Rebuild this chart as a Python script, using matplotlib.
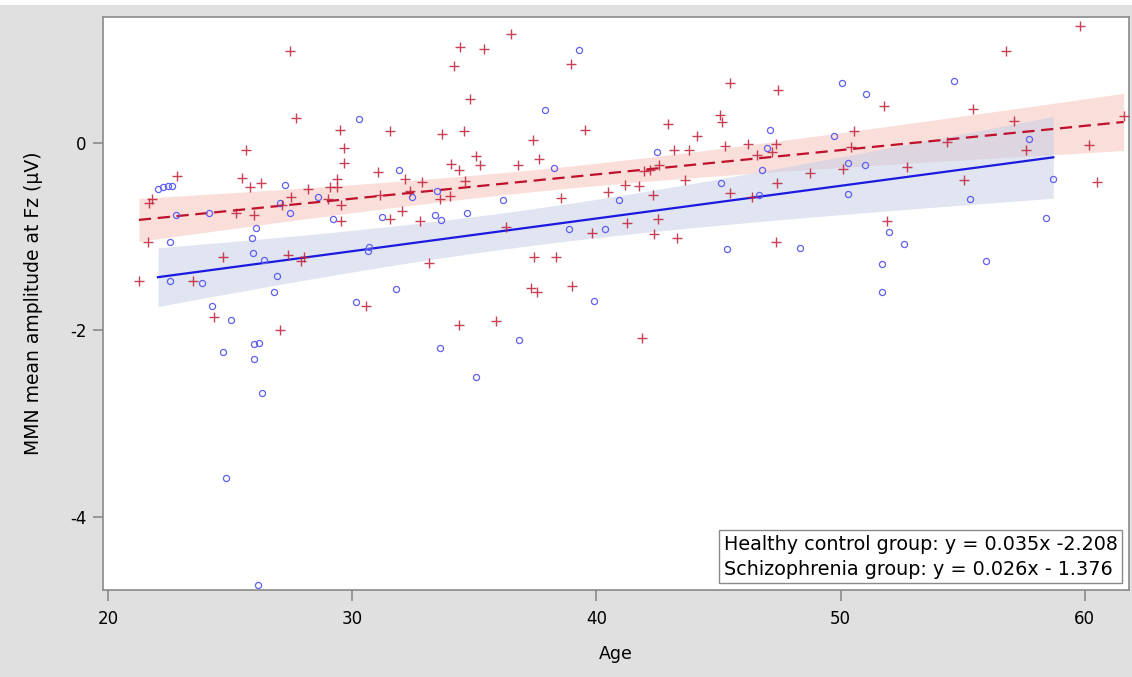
import numpy as np
import matplotlib
matplotlib.use("Agg")
import matplotlib.pyplot as plt
from matplotlib.patches import Rectangle

plt.rcParams["font.family"] = ["DejaVu Sans"]
plt.rcParams["axes.unicode_minus"] = False

# Healthy control group (age, MMN amplitude in uV)
hc_age = [22.05, 22.26, 22.45, 22.62, 27.26, 28.59, 30.30, 39.30, 37.88, 31.90,
          38.26, 33.49, 32.47, 36.18, 50.05, 47.13, 49.73, 42.49, 46.99, 46.78,
          50.32, 45.10, 40.94, 46.66, 50.32, 54.66, 51.03, 57.70, 50.98, 58.71,
          55.29, 58.41, 51.99, 52.61, 51.71, 55.95, 51.71, 40.35, 45.36, 48.34,
          31.24, 33.38, 33.62, 34.69, 38.89, 30.68, 30.64, 31.80, 30.14, 39.92,
          36.84, 33.60, 35.07, 22.79, 24.12, 27.03, 27.47, 29.23, 26.06, 25.92,
          22.54, 25.96, 26.39, 26.92, 22.53, 23.87, 26.82, 24.25, 25.05, 25.99,
          26.19, 24.72, 25.98, 26.29, 24.84, 26.16]
hc_amp = [-0.49, -0.47, -0.46, -0.46, -0.45, -0.58, 0.26, 1.00, 0.35, -0.29,
          -0.27, -0.51, -0.58, -0.61, 0.64, 0.14, 0.08, -0.10, -0.05, -0.29,
          -0.21, -0.43, -0.61, -0.56, -0.55, 0.66, 0.53, 0.04, -0.24, -0.38,
          -0.60, -0.80, -0.95, -1.08, -1.29, -1.26, -1.59, -0.92, -1.13, -1.12,
          -0.79, -0.77, -0.82, -0.75, -0.92, -1.11, -1.16, -1.56, -1.70, -1.69,
          -2.11, -2.19, -2.51, -0.77, -0.75, -0.64, -0.75, -0.81, -0.91, -1.02,
          -1.06, -1.18, -1.25, -1.42, -1.48, -1.50, -1.59, -1.74, -1.90, -2.15,
          -2.14, -2.24, -2.31, -2.68, -3.59, -4.73]

# Schizophrenia group (age, MMN amplitude in uV)
sz_age = [27.47, 27.70, 29.49, 29.66, 29.67, 25.65, 22.83, 25.49, 25.80, 26.27,
          28.18, 29.08, 29.37, 29.37, 21.82, 27.51, 29.01,
          36.51, 34.42, 35.40, 34.16, 38.97, 34.84, 31.54, 33.67, 34.57, 39.55,
          37.40, 37.66, 35.09, 34.03, 35.22, 34.36, 36.80, 31.05, 32.17, 32.87,
          34.64, 32.35, 31.16, 33.60, 34.01, 38.55, 40.47,
          45.48, 47.44, 42.95, 45.08, 45.13, 44.13, 50.55, 43.20, 43.81, 45.26,
          46.22, 47.36, 46.56, 47.19, 50.43, 42.58, 42.18, 41.97, 50.08, 48.75,
          43.61, 41.17, 41.76, 47.41, 42.31, 45.48, 46.36,
          59.79, 56.79, 51.77, 55.42, 57.09, 61.59, 54.34, 60.16, 57.60, 52.73,
          55.04, 60.51, 51.89,
          41.27, 42.54, 42.35, 43.32, 47.37, 41.86,
          31.56, 32.04, 32.76, 36.31, 39.81, 33.14, 37.44, 38.33, 37.32, 37.55,
          38.99, 30.56, 34.39, 35.88,
          21.68, 29.54, 25.25, 25.99, 27.11, 29.54, 21.65, 24.70, 27.39, 27.92,
          28.01, 21.27, 23.47, 24.35, 27.06]
sz_amp = [0.98, 0.27, 0.14, -0.05, -0.21, -0.08, -0.35, -0.37, -0.47, -0.43,
          -0.49, -0.47, -0.47, -0.39, -0.60, -0.58, -0.60,
          1.17, 1.03, 1.01, 0.82, 0.85, 0.47, 0.13, 0.10, 0.13, 0.14,
          0.03, -0.17, -0.14, -0.22, -0.24, -0.29, -0.23, -0.31, -0.38, -0.42,
          -0.41, -0.51, -0.56, -0.60, -0.57, -0.59, -0.52,
          0.64, 0.57, 0.20, 0.30, 0.22, 0.07, 0.13, -0.08, -0.08, -0.03,
          -0.01, -0.01, -0.13, -0.10, -0.04, -0.23, -0.29, -0.30, -0.28, -0.32,
          -0.40, -0.45, -0.46, -0.43, -0.56, -0.54, -0.58,
          1.25, 0.98, 0.40, 0.36, 0.24, 0.29, 0.01, -0.02, -0.08, -0.26,
          -0.40, -0.42, -0.83,
          -0.86, -0.81, -0.97, -1.02, -1.06, -2.09,
          -0.81, -0.73, -0.83, -0.90, -0.96, -1.28, -1.22, -1.22, -1.55, -1.60,
          -1.53, -1.75, -1.95, -1.91,
          -0.64, -0.66, -0.75, -0.77, -0.66, -0.83, -1.06, -1.22, -1.20, -1.26,
          -1.22, -1.48, -1.48, -1.86, -2.00]

# Fitted regression coefficients (slope, intercept)
hc_fit = (0.035, -2.208)
sz_fit = (0.026, -1.376)
fit_labels = ["Healthy control group: y = 0.035x -2.208",
              "Schizophrenia group: y = 0.026x - 1.376"]

x_ticks = [20, 30, 40, 50, 60]
y_ticks = [0, -2, -4]


def fit_band(age, amp, fit, level_t=1.98):
    """Fitted line and 95% confidence band over the observed age range."""
    age = np.asarray(age)
    amp = np.asarray(amp)
    slope, icpt = fit
    n = len(age)
    resid = amp - (slope * age + icpt)
    s = np.sqrt(np.sum(resid ** 2) / (n - 2))
    xbar = age.mean()
    sxx = np.sum((age - xbar) ** 2)
    xs = np.linspace(age.min(), age.max(), 200)
    ys = slope * xs + icpt
    hw = level_t * s * np.sqrt(1.0 / n + (xs - xbar) ** 2 / sxx)
    return xs, ys, ys - hw, ys + hw


fig = plt.figure(figsize=(11.32, 6.77), dpi=100)
fig.patch.set_facecolor("#e0e0e0")
fig.patches.append(Rectangle((0, 1 - 5 / 677), 1, 5 / 677, transform=fig.transFigure,
                             facecolor="white", edgecolor="none", zorder=-1))

ax = fig.add_axes([103 / 1132, 1 - 589.5 / 677, 1026 / 1132, 572.2 / 677])
ax.set_facecolor("white")

sx, sy, slo, shi = fit_band(sz_age, sz_amp, sz_fit)
hx, hy, hlo, hhi = fit_band(hc_age, hc_amp, hc_fit)

ax.fill_between(sx, slo, shi, color="#f5bfb7", alpha=0.5, lw=0, zorder=1)
ax.fill_between(hx, hlo, hhi, color="#c3cde5", alpha=0.5, lw=0, zorder=1.1)

ax.plot(hx, hy, color="#1a1ae0", lw=1.6, zorder=3)
ax.plot(sx, sy, color="#c0102c", lw=1.6, ls=(0, (5.5, 3)), zorder=3)

ax.plot(hc_age, hc_amp, ls="none", marker="o", ms=4.4, mfc="none",
        mec="#6060f0", mew=0.9, zorder=4)
ax.plot(sz_age, sz_amp, ls="none", marker="+", ms=6.5, color="#bf2038",
        mew=1.0, alpha=0.85, zorder=4)

ax.set_xlim(19.80, 61.81)
ax.set_ylim(-4.78, 1.346)
ax.set_xticks(x_ticks)
ax.set_yticks(y_ticks)
ax.set_xticklabels([str(v) for v in x_ticks])
ax.set_yticklabels([str(v) for v in y_ticks])

for sp in ax.spines.values():
    sp.set_color("#8a8a8a")
    sp.set_linewidth(1.2)
ax.tick_params(axis="x", length=8, width=1.2, color="#8a8a8a", pad=7, labelsize=12)
ax.tick_params(axis="y", length=7, width=1.2, color="#8a8a8a", pad=5, labelsize=12)

ax.set_xlabel("Age", fontsize=12.5, labelpad=12)
ax.set_ylabel("MMN mean amplitude at Fz (\u03bcV)", fontsize=13.5, labelpad=19)

ax.text(0.9887, 0.019, "\n".join(fit_labels), transform=ax.transAxes,
        ha="right", va="bottom", multialignment="left", fontsize=13.8,
        linespacing=1.38,
        bbox=dict(boxstyle="square,pad=0.25", facecolor="white",
                  edgecolor="#8a8a8a", lw=1.0), zorder=6)

fig.savefig("out.png", dpi=100, facecolor=fig.get_facecolor())
